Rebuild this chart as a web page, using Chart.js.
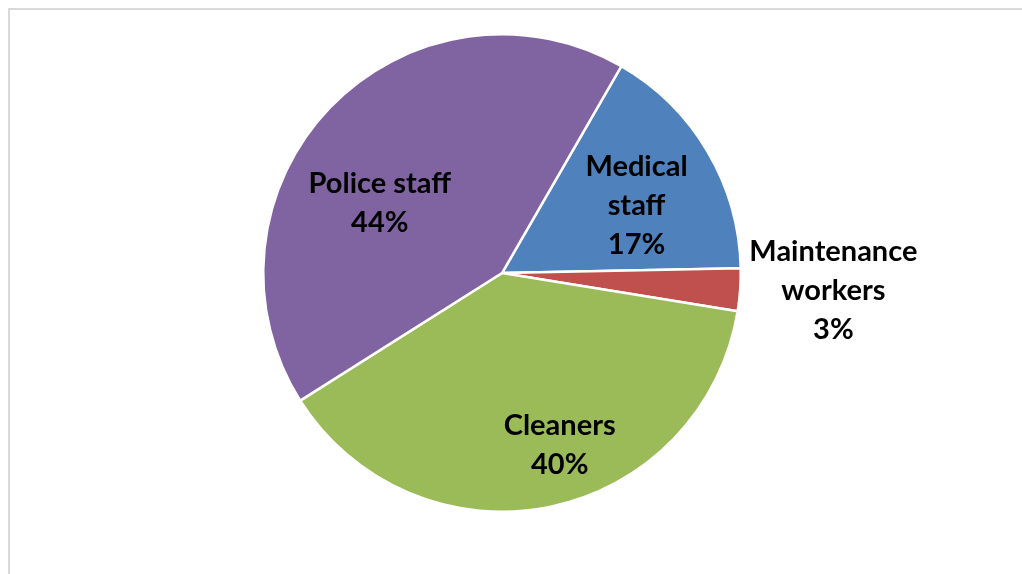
<!DOCTYPE html>
<html>
<head>
<meta charset="utf-8">
<script src="https://cdn.jsdelivr.net/npm/chart.js@4/dist/chart.umd.min.js"></script>
<style>
    html, body { margin: 0; padding: 0; background: #fff; }
    #wrap { position: relative; width: 1022px; height: 574px; }
    #frame { position: absolute; left: 8px; top: 8px; width: 1030px; height: 580px; border-left: 2px solid #d9d9d9; border-top: 2px solid #d9d9d9; }
    canvas { position: absolute; left: 0; top: 0; }
</style>
</head>
<body>
<div id="wrap">
    <div id="frame"></div>
    <canvas id="pieChart" width="1022" height="574"></canvas>
</div>
<script>
const categories = ['Medical staff', 'Maintenance workers', 'Cleaners', 'Police staff'];
const labelLines = [['Medical', 'staff'], ['Maintenance', 'workers'], ['Cleaners'], ['Police staff']];
const values = [17, 3, 40, 44];
const colors = ['#4F81BD', '#C0504D', '#9BBB59', '#8064A2'];

// where each label sits: fraction of radius, angle tweak in degrees
const labelPlace = [[0.63, 4], [1.39, -1], [0.76, -7], [0.59, -14]];

const pieLabels = {
    id: 'pieLabels',
    afterDatasetsDraw(chart) {
        const ctx = chart.ctx;
        const meta = chart.getDatasetMeta(0);
        ctx.save();
        ctx.font = 'bold 29px Lato';
        ctx.fillStyle = '#000';
        ctx.textAlign = 'center';
        ctx.textBaseline = 'middle';
        meta.data.forEach(function (arc, i) {
            const mid = (arc.startAngle + arc.endAngle) / 2 + labelPlace[i][1] * Math.PI / 180;
            const r = arc.outerRadius * labelPlace[i][0];
            const x = arc.x + Math.cos(mid) * r;
            const y = arc.y + Math.sin(mid) * r;
            const lines = labelLines[i].concat([values[i] + '%']);
            const lh = 39;
            lines.forEach(function (t, j) {
                ctx.fillText(t, x, y + (j - (lines.length - 1) / 2) * lh);
            });
        });
        ctx.restore();
    }
};

const ctx = document.getElementById('pieChart').getContext('2d');
const myChart = new Chart(ctx, {
    type: 'pie',
    data: {
        labels: categories,
        datasets: [{
            data: values,
            backgroundColor: colors,
            borderColor: '#ffffff',
            borderWidth: 2.5
        }]
    },
    options: {
        responsive: false,
        animation: false,
        rotation: 30,
        layout: {
            padding: { top: 33, bottom: 61, left: 0, right: 18 }
        },
        plugins: {
            legend: { display: false },
            tooltip: { enabled: false }
        }
    },
    plugins: [pieLabels]
});
</script>
</body>
</html>
